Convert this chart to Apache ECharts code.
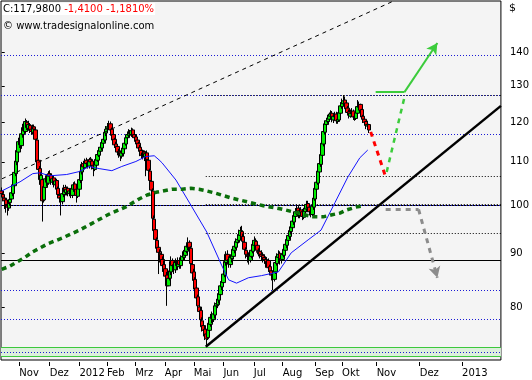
<!DOCTYPE html>
<html><head><meta charset="utf-8">
<script src="https://cdn.jsdelivr.net/npm/echarts@6/dist/echarts.min.js"></script>
<style>html,body{margin:0;padding:0;background:#fff}#c{width:532px;height:380px}</style>
</head><body><div id="c"></div>
<script>
// Daily candles (slot index = position in arrays)
const opens=[103.2,102.4,101.6,101.2,100.0,99.4,100.6,101.4,102.6,104.4,
107.2,110.0,112.4,115.4,114.0,116.8,118.8,117.6,120.0,118.4,
119.2,118.2,117.4,118.8,118.0,115.4,110.4,108.4,105.6,105.8,
101.2,104.0,106.2,105.0,107.2,106.8,105.2,106.2,104.6,105.6,
103.8,102.2,101.8,100.8,102.4,104.0,102.8,103.8,102.6,103.4,
102.2,103.6,104.8,103.6,102.0,103.6,105.6,107.6,109.6,108.6,
110.4,109.8,109.0,110.6,110.2,109.2,108.2,109.2,110.4,111.6,
112.6,113.4,114.6,115.4,117.2,118.4,118.6,119.6,118.2,116.8,
115.6,114.4,113.8,112.6,112.4,111.4,112.0,113.2,114.4,116.0,
116.6,117.6,116.8,118.0,116.8,116.2,115.4,114.6,113.6,112.8,
111.4,112.4,111.2,112.2,110.4,107.8,105.4,103.2,97.0,94.8,
92.6,91.2,90.0,89.8,88.8,87.8,87.0,85.8,83.8,85.2,
86.4,88.6,87.8,86.8,88.4,87.4,88.6,87.6,88.6,89.2,
89.6,90.4,91.2,92.2,91.0,87.8,86.4,85.0,83.4,81.8,
80.0,79.4,77.6,76.8,76.2,75.4,74.8,76.0,77.0,78.6,
77.8,78.6,80.2,80.4,81.2,82.2,83.6,84.4,85.8,88.2,
89.8,88.8,87.8,89.0,89.4,90.6,91.2,92.2,92.6,93.6,
94.4,93.4,92.2,90.6,89.6,89.6,88.6,89.4,90.4,91.6,
92.4,91.6,90.4,90.4,89.8,89.6,89.2,88.8,87.8,88.6,
87.4,86.6,86.0,85.0,86.4,88.0,89.2,90.0,88.6,88.8,
89.6,90.6,91.6,92.6,93.4,94.4,95.2,96.4,97.6,98.4,
99.4,97.8,99.0,98.6,97.4,98.6,99.2,100.4,99.6,98.8,
98.0,99.6,101.4,103.6,105.0,107.6,109.4,111.6,114.4,117.4,
119.4,120.2,120.8,121.6,122.4,120.6,121.4,122.2,120.2,120.6,
122.4,124.2,125.0,126.0,125.2,123.8,122.8,121.6,122.2,123.0,
121.6,121.0,122.4,124.0,124.8,123.4,121.6,120.8,120.2,119.0,119.4];
const closes=[102.6,101.8,101.0,100.2,99.6,100.4,101.3,102.8,104.6,107.5,
110.2,112.8,115.0,114.2,117.0,118.6,117.8,120.2,118.6,119.4,
118.0,117.6,118.8,118.2,115.6,110.0,108.2,105.8,106.8,101.0,
104.2,106.0,105.2,107.0,106.6,105.4,106.0,104.8,105.5,103.6,
102.4,101.6,101.0,102.6,103.9,103.0,103.6,102.8,103.2,102.4,
103.8,104.6,103.4,102.2,103.8,105.8,107.8,109.4,108.8,110.2,
109.6,109.2,110.4,110.0,109.0,108.4,109.4,110.6,111.8,112.8,
113.6,114.8,115.6,117.4,118.2,118.8,119.4,118.0,116.6,115.4,
114.2,113.6,112.4,112.0,111.6,112.2,113.4,114.6,116.0,116.8,
117.4,117.0,117.8,116.6,116.0,115.2,114.4,113.4,112.6,111.6,
112.2,111.4,112.0,110.6,108.0,105.6,103.4,97.2,94.6,92.8,
91.0,90.2,89.6,88.6,87.6,86.8,85.6,83.8,85.2,86.6,
88.4,87.6,87.0,88.2,87.6,88.4,87.8,88.8,89.4,89.8,
90.6,91.4,92.0,91.2,88.0,86.2,84.8,83.2,81.6,80.2,
79.2,77.8,76.6,76.0,75.2,74.6,76.2,77.2,78.2,78.0,
78.8,80.2,80.6,81.4,82.4,83.8,84.6,86.0,88.4,89.8,
88.6,88.0,89.2,89.6,90.8,91.4,92.4,92.8,93.8,94.6,
93.2,92.4,90.8,89.8,89.4,88.8,89.6,90.6,91.8,92.6,
91.4,90.6,90.2,89.8,89.4,89.0,88.8,88.0,88.4,87.2,
86.6,85.8,85.2,86.6,88.2,89.4,89.8,88.6,89.0,89.8,
90.8,91.8,92.8,93.6,94.6,95.4,96.6,97.8,98.6,99.2,
98.0,98.8,98.4,97.6,98.8,99.4,100.2,99.4,98.6,98.2,
99.8,101.6,103.8,105.2,107.8,109.6,111.8,114.6,117.6,119.6,
120.4,121.0,121.8,122.2,120.8,121.6,122.0,120.4,120.8,122.6,
124.4,125.2,125.8,125.0,123.6,122.6,122.0,122.4,122.8,121.4,
121.2,122.6,124.2,124.6,123.2,121.4,120.8,120.0,119.2,119.4,117.98];
const lows=[101.8,100.9,99.2,98.4,97.8,98.8,99.9,100.8,102.0,104.0,
106.6,109.2,111.8,113.4,113.2,116.0,117.0,117.0,118.0,117.8,
117.2,116.8,116.8,117.4,114.8,108.8,107.0,104.6,104.8,96.5,
100.6,103.2,104.2,104.6,105.8,104.6,104.6,104.0,104.0,102.8,
101.6,100.6,97.8,100.2,101.8,102.2,102.2,102.0,102.0,101.6,
101.6,103.0,102.8,100.6,101.6,103.2,105.0,107.0,108.0,108.2,
108.8,108.4,108.4,109.4,108.2,106.6,107.8,108.8,110.0,111.2,
112.0,112.8,113.8,114.8,116.4,117.6,118.0,117.4,115.8,114.6,
113.4,112.8,111.6,111.0,110.2,110.8,111.4,112.8,114.0,115.6,
116.0,116.2,116.2,116.0,115.0,114.4,113.6,112.6,111.4,110.8,
110.6,110.2,106.6,109.8,107.2,104.6,102.0,96.4,92.8,91.6,
90.2,86.0,88.2,87.6,86.4,85.6,84.6,80.2,83.8,84.8,
85.8,86.8,86.0,86.2,86.8,86.8,87.0,87.0,88.0,88.6,
89.2,90.0,90.6,90.4,87.4,85.4,83.8,82.0,80.6,79.4,
78.2,77.0,75.8,75.0,74.4,73.3,74.4,75.6,76.6,77.2,
77.4,78.0,79.6,79.8,80.6,81.8,83.0,84.0,85.4,87.6,
87.8,87.2,87.2,88.2,88.8,90.0,90.8,91.4,92.0,92.8,
92.6,91.6,90.0,89.0,88.2,87.8,88.2,89.0,90.0,91.0,
90.6,89.8,89.4,89.0,88.6,88.2,88.0,87.2,87.4,86.4,
85.8,84.8,83.0,84.6,86.0,87.6,88.8,87.8,88.0,88.8,
89.2,90.0,91.0,92.0,92.8,93.8,94.8,95.8,97.0,97.8,
97.2,97.2,97.6,96.8,97.0,98.0,98.6,98.8,97.8,97.4,
97.6,99.0,101.0,102.8,104.6,106.8,108.8,111.0,113.8,116.8,
118.8,119.6,120.2,120.8,120.0,119.8,120.6,119.6,119.6,120.2,
122.0,123.6,124.6,124.2,122.8,121.8,121.0,121.2,121.6,120.6,
120.4,120.6,122.0,123.4,122.4,120.8,119.8,119.2,118.2,118.4,117.2];
const highs=[104.0,102.9,102.0,101.6,100.8,101.0,102.0,103.6,105.4,108.4,
111.0,113.6,116.0,116.2,117.8,119.6,119.6,121.0,120.6,120.4,
119.8,118.8,119.4,119.4,118.4,115.8,111.0,109.0,107.6,106.4,
104.8,106.8,107.0,107.8,108.0,107.2,106.8,106.8,106.2,106.0,
104.2,102.8,102.4,103.2,104.6,104.6,104.2,104.2,103.8,103.8,
104.4,105.2,105.4,104.0,104.4,106.4,108.6,110.0,110.2,110.8,
111.0,110.6,111.0,111.2,110.8,109.8,110.0,111.2,112.4,113.6,
114.2,115.4,116.4,118.0,119.0,119.8,120.4,120.2,118.6,117.2,
116.0,115.0,114.2,113.2,112.8,112.8,114.0,115.2,116.6,117.6,
118.2,118.0,118.6,118.4,117.2,116.8,116.0,115.0,114.2,113.2,
113.0,112.8,112.6,112.8,110.8,108.4,106.0,103.8,97.8,95.2,
93.2,91.6,90.8,90.4,89.4,88.6,87.6,86.4,86.4,87.4,
89.4,89.0,88.4,89.0,88.6,89.2,89.2,89.6,90.4,90.6,
91.2,92.2,93.2,92.6,91.4,88.6,87.0,85.4,84.0,82.2,
80.6,80.0,78.2,77.4,76.8,76.0,76.8,77.8,78.8,79.2,
79.4,80.8,81.4,82.2,83.2,84.6,85.4,86.8,89.0,90.4,
90.6,89.4,89.8,90.4,91.4,92.2,93.0,93.6,94.8,95.4,
95.6,94.0,92.8,91.2,90.4,90.2,90.2,91.4,92.6,93.4,
93.0,92.2,91.0,91.0,90.6,90.2,89.8,89.4,89.2,89.0,
87.8,87.2,86.4,87.2,88.8,90.0,90.6,90.4,89.6,90.4,
91.6,92.4,93.4,94.4,95.2,96.2,97.4,98.4,99.4,100.2,
100.0,99.4,99.6,99.2,99.4,100.2,101.0,101.0,100.2,99.4,
100.4,102.2,104.6,106.0,108.6,110.6,112.6,115.4,118.4,120.4,
121.2,122.0,122.6,123.2,123.0,122.4,122.8,122.8,121.6,123.4,
125.4,126.4,127.4,127.0,125.8,124.4,123.4,123.4,123.8,123.4,
122.2,123.4,126.0,125.6,125.0,123.6,122.0,121.2,120.4,120.4,119.6];

// Moving averages: [slot, value]
const maBlue=[[0,103.2],[13,105.3],[22,107.2],[27,107.4],[34,106.7],[46,107.0],[55,107.7],[62,108.9],[69,108.4],[78,107.9],[85,108.9],[95,110.1],[102,111.3],[108,111.5],[111.4,110.5],[113.5,109.8],[123.4,105.7],[134.6,99.7],[145.2,94.3],[155.7,87.7],[160.7,84.9],[166.3,84.3],[174.7,85.3],[184,85.7],[190.9,86.1],[195.9,86.4],[205,90.1],[217,92.7],[226.1,94.7],[236,100.6],[245.1,106.4],[253.6,111.0],[259.2,112.9]];
const maGreen=[[0,86.9],[5.8,87.5],[16.4,89.2],[22,90.3],[32.6,91.9],[43.1,93.1],[55.1,94.7],[65.7,96.4],[76.2,98.1],[87.5,99.6],[97.3,101.4],[103,102.3],[109.3,102.9],[120.5,103.6],[127.6,103.6],[133.9,103.8],[139.6,103.6],[145.2,103.2],[151.5,102.7],[162.8,101.6],[174.7,100.7],[185.3,99.9],[198,99.2],[210,98.3],[220.5,97.5],[227.5,97.5],[233.2,97.9],[239.5,98.3],[244.4,99.0],[250.8,99.6],[256.4,99.9]];

// Axis ticks
const tickPos=[12.5,34,55,74.5,94.5,115.5,136,157,178.5,199,222,241,265.5,296,326];
const tickLabels=['Nov','Dez','2012','Feb','Mrz','Apr','Mai','Jun','Jul','Aug','Sep','Okt','Nov','Dez','2013'];
const yTicks=[80,90,100,110,120,130,140];

// Horizontal levels
const blueLevels=[139.1,127.4,116.9,100,83.0,77.8,72.5];
const blackLevels=[100,88.7];
const fibStart=144.5;
const fibLevels=[127.4,106.6,100.3,94.0,73.3];
const band=[71.74,73.28];

// Drawn annotations [slot, value]
const trendSupport=[[144.5,73.3],[353.5,124.4]];
const trendUpper=[[0.2,106.0],[277.5,156.6]];
const fcRed=[[261.3,117.5],[271.9,106.4]];
const fcGreenDash=[[272.6,107.6],[285.2,126.8]];
const fcGreenSolid=[[264.8,128.2],[285.2,128.2],[308.5,142.8]];
const fcGray=[[271.9,99.1],[295.2,99.1],[308.5,85.3]];

const FONT='DejaVu Sans';
const candles=closes.map((c,i)=>[i,opens[i],c,lows[i],highs[i]]);

function seg(pts,style,arrow){
  const out=[];
  for(let k=0;k<pts.length-1;k++){
    const last=k===pts.length-2;
    out.push([{coord:pts[k],symbol:'none'},{coord:pts[k+1],symbol:(arrow&&last)?'arrow':'none',symbolSize:arrow&&last?[9,11]:0,lineStyle:style}]);
  }
  return out;
}
const hLine=(v,style)=>({yAxis:v,lineStyle:style});
const dotBlue={color:'#1a1ad6',width:1,type:[1,2]};
const solidBlack={color:'#000',width:1,type:'solid'};
const dotBlack={color:'#000',width:1,type:[1,2]};

const levelData=[]
  .concat(blackLevels.map(v=>hLine(v,solidBlack)))
  .concat(blueLevels.map(v=>hLine(v,dotBlue)))
  .concat(fibLevels.map(v=>[{coord:[fibStart,v],symbol:'none'},{coord:[353.5,v],symbol:'none',lineStyle:dotBlack}]))
  .concat(band.map(v=>hLine(v,{color:'#3cc83c',width:1,type:'solid'})));

const annData=[]
  .concat(seg(trendSupport,{color:'#000',width:2.5,type:'solid'},false))
  .concat(seg(trendUpper,{color:'#000',width:1,type:[4,4]},false))
  .concat(seg(fcRed,{color:'#ff0000',width:3,type:[5,5]},false))
  .concat(seg(fcGreenDash,{color:'#3ccc3c',width:2.5,type:[5,5]},false))
  .concat(seg(fcGreenSolid,{color:'#3ccc3c',width:2,type:'solid'},true))
  .concat(seg(fcGray,{color:'#8c8c8c',width:3,type:[5,5]},true));

const chart=echarts.init(document.getElementById('c'),null,{renderer:'canvas'});
chart.setOption({
  animation:false,
  backgroundColor:'#ffffff',
  grid:{left:1,right:28,top:1,bottom:20,show:true,backgroundColor:'#f4f4f4',borderColor:'#000',borderWidth:1},
  xAxis:{type:'value',min:-0.5,max:353.5,offset:2,
    splitLine:{show:false},axisLine:{show:false},
    axisTick:{show:true,customValues:tickPos,length:4,lineStyle:{color:'#000'}},
    axisLabel:{customValues:tickPos,align:'left',margin:6,color:'#000',fontFamily:FONT,fontSize:10,
      formatter:v=>{let b=0,d=1e9;tickPos.forEach((t,k)=>{if(Math.abs(t-v)<d){d=Math.abs(t-v);b=k;}});return tickLabels[b];}}},
  yAxis:{type:'log',position:'right',min:71.21,max:156.6,offset:2,
    splitLine:{show:false},axisLine:{show:false},minorTick:{show:false},
    axisTick:{show:true,customValues:yTicks,length:3,lineStyle:{color:'#000'}},
    axisLabel:{customValues:yTicks,margin:7,color:'#000',fontFamily:FONT,fontSize:10,formatter:v=>String(Math.round(v))}},
  graphic:[
    {type:'text',left:2,top:3,z:100,style:{text:'{a|C:117,9800} {b|-1,4100 -1,1810%}',backgroundColor:'#fff',padding:[1,1,1,1],
      rich:{a:{fill:'#000',fontFamily:FONT,fontSize:10},b:{fill:'#ff0000',fontFamily:FONT,fontSize:10}},font:'10px '+FONT}},
    {type:'text',left:3,top:21,z:100,style:{text:'© www.tradesignalonline.com',fill:'#000',font:'10px '+FONT}},
    {type:'text',left:509,top:3,z:100,style:{text:'$',fill:'#000',font:'11px '+FONT}}
  ],
  series:[
    {type:'line',name:'levels',data:[],z:1,silent:true,
      markArea:{silent:true,z:1,itemStyle:{color:'#dcefdc'},data:[[{yAxis:band[0]},{yAxis:band[1]}]]},
      markLine:{silent:true,z:1,symbol:'none',label:{show:false},animation:false,data:levelData}},
    {type:'candlestick',name:'price',data:candles,barWidth:4,z:2,silent:true,
      itemStyle:{color:'#00f000',color0:'#ff0000',borderColor:'#000',borderColor0:'#000',borderWidth:1}},
    {type:'line',name:'ma1',data:maBlue,z:3,silent:true,showSymbol:false,smooth:false,
      lineStyle:{color:'#1414ff',width:1}},
    {type:'line',name:'ma2',data:maGreen,z:3,silent:true,showSymbol:false,
      lineStyle:{color:'#0a6e0a',width:3.5,type:[5,4]}},
    {type:'line',name:'ann',data:[],z:4,silent:true,
      markLine:{silent:true,z:6,symbol:'none',label:{show:false},animation:false,data:annData}}
  ]
});
</script></body></html>
